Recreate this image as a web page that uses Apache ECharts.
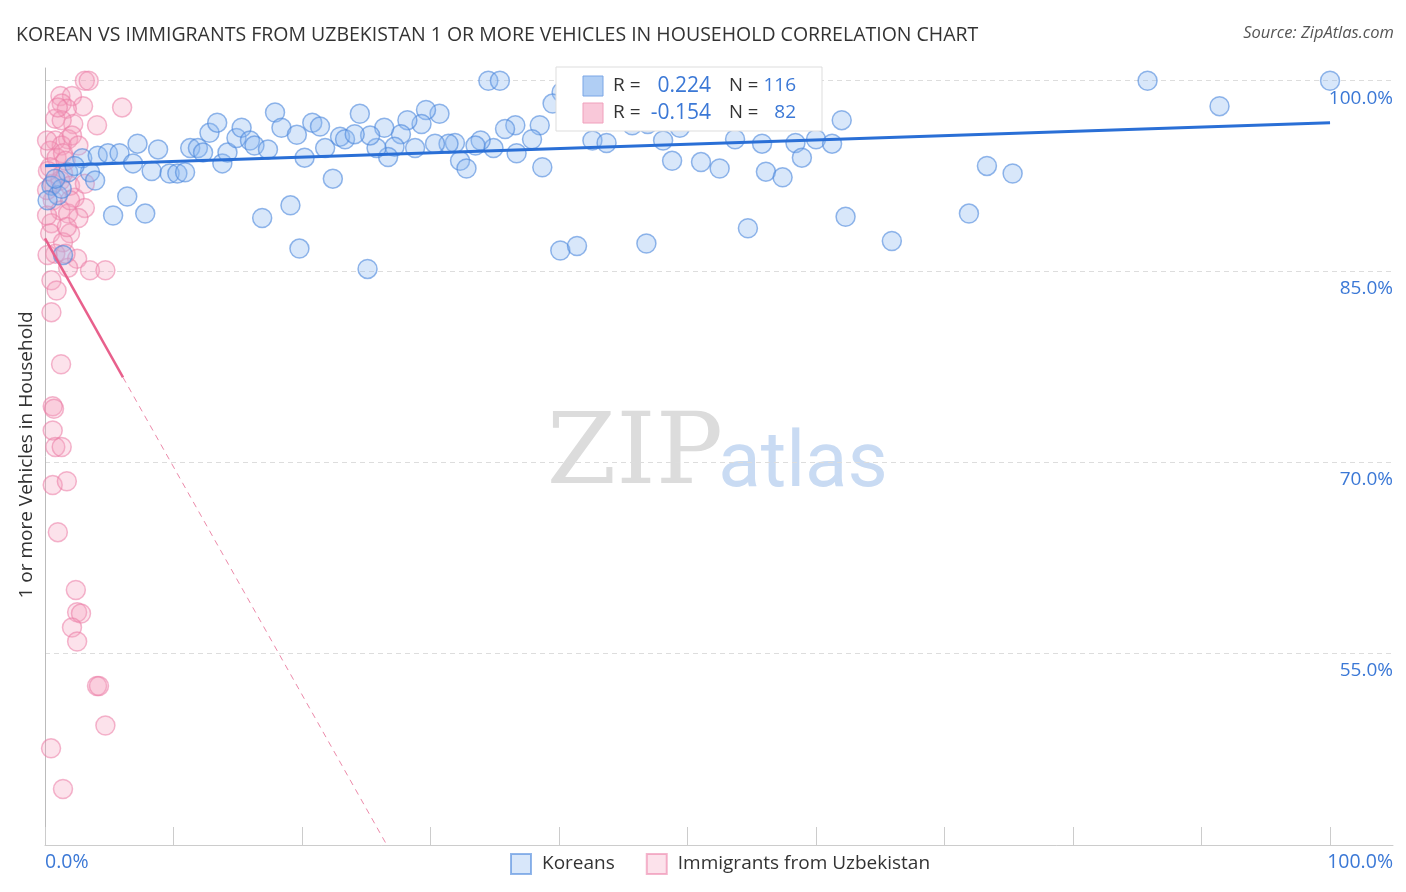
<!DOCTYPE html>
<html>
<head>
<meta charset="utf-8">
<script src="https://cdn.jsdelivr.net/npm/echarts@6/dist/echarts.min.js"></script>
<style>html,body{margin:0;padding:0;background:#fff;}#c{width:1406px;height:892px;}</style>
</head>
<body>
<div id="c"></div>
<script>
const koreans = [
[34.5,100],[35.4,100],[40.7,100.1],[40.2,99.1],[39.5,98.2],[42.3,98.7],[48.0,97.6],[45.7,96.5],[46.9,96.6],[49.4,96.3],
[48.1,95.3],[48.8,93.7],[42.6,95.3],[43.7,95.1],[38.5,96.5],[37.9,95.4],[36.6,96.5],[35.8,96.2],[36.7,94.3],[38.7,93.2],
[34.9,94.7],[33.9,95.3],[33.5,94.9],[31.9,95.1],[31.4,95.05],[32.3,93.7],[32.8,93.1],[30.35,95.05],[28.8,94.7],[30.7,97.4],
[29.65,97.7],[29.3,96.6],[28.2,96.9],[27.7,95.8],[27.2,94.8],[26.7,94.0],[26.4,96.3],[25.8,94.7],[25.3,95.7],[24.5,97.4],
[25.1,85.2],[40.1,86.65],[41.4,87.0],[46.8,87.2],
[2.9,93.9],[3.5,92.8],[3.9,92.15],[4.1,94.1],[4.9,94.3],[5.8,94.3],[6.85,93.5],[7.2,95.05],[8.8,94.6],[8.3,92.9],
[9.7,92.7],[10.3,92.7],[10.9,92.8],[11.3,94.7],[11.9,94.7],[12.3,94.35],[12.8,95.9],[13.4,96.7],[13.8,93.5],[14.2,94.35],
[14.9,95.5],[15.3,96.3],[15.95,95.3],[16.3,94.9],[17.35,94.6],[17.9,97.5],[18.4,96.3],[19.6,95.75],[20.2,93.95],[20.8,96.7],
[21.4,96.4],[21.8,94.7],[22.4,92.3],[22.96,95.6],[23.35,95.4],[24.1,95.8],
[6.4,90.9],[5.3,89.4],[7.8,89.55],[16.9,89.2],[19.1,90.2],[19.8,86.8],[1.4,86.3],
[50.8,98.7],[52.0,98.0],[54.5,98.7],[53.7,95.4],[55.8,95.05],[58.4,95.1],[60.0,95.4],[61.25,95.05],[62.0,96.9],[58.9,93.95],
[51.05,93.6],[52.5,93.1],[56.1,92.85],[57.4,92.4],[54.7,88.4],[62.3,89.3],[65.9,87.4],[73.3,93.3],[75.3,92.7],[71.9,89.55],
[85.8,100],[100,100],[91.4,98.0],
[0.5,91.75],[1.0,91.0],[1.3,91.5],[1.8,92.8],[0.8,92.3],[2.3,93.3],[0.2,90.6]
];
const uzbek = [
[3.1,100],[3.4,100],[1.2,98.8],[2.1,98.8],[1.3,98.2],[2.96,98.0],[6.0,97.9],[1.7,97.8],[0.8,97.0],[2.2,96.6],
[4.05,96.5],[1.3,96.9],[1.8,95.4],[0.8,95.3],[1.3,94.9],[0.4,94.5],[0.9,93.95],[1.4,94.3],[0.4,93.2],[1.4,92.7],
[0.6,91.9],[1.2,92.15],[2.3,90.8],[3.1,90.0],[0.6,90.6],[1.2,89.8],[1.8,89.55],[2.6,89.2],[0.5,88.8],[1.95,88.0],
[0.4,88.0],[1.4,87.3],[0.8,86.4],[2.5,86.0],[1.8,85.3],[3.5,85.1],[4.7,85.1],[0.5,84.3],[0.9,83.5],[0.5,81.8],
[1.25,77.7],[0.6,74.4],[0.7,74.2],[0.6,72.5],[0.8,71.2],[1.3,71.2],[0.6,68.2],[1.7,68.5],[1.0,64.5],[2.4,59.95],
[2.5,58.2],[2.8,58.1],[2.1,57.0],[2.5,55.9],[4.05,52.4],[4.2,52.4],[4.7,49.3],[0.47,47.5],[1.4,44.3],
[1.0,97.9],[2.1,95.7],[1.7,88.5],[1.6,86.4],
[0.23,92.9],[1.95,91.75],[1.6,93.7],[2.6,94.9],[0.16,95.3],[0.16,91.4],[0.16,89.4],[0.2,86.3],[3.1,91.9],[1.95,90.6]
];
const koreanTrend = [[0,93.32],[100,96.70]];
const uzbekTrendSolid = [[0,87.6],[6.07,76.67]];
const uzbekTrendDashed = [[6.07,76.67],[26.6,39.9]];
const yTicks = [55,70,85,100];
const xTicks = [0,10,20,30,40,50,60,70,80,90,100];
const seriesNames = ['Koreans','Immigrants from Uzbekistan'];
const stats = [{r:'0.224', n:'116'},{r:'-0.154', n:'82'}];
const xLabels = ['0.0%','100.0%'];

const chart = echarts.init(document.getElementById('c'));
const FONT = '"Open Sans", Roboto, sans-serif';
const BLUE_TXT = '#3b78d6';
const legendBox = [];
legendBox.push({type:'rect', shape:{x:556,y:67,width:266,height:64}, style:{fill:'#fff', stroke:'#dddddd', lineWidth:1}, z:100});
const sq = [{fill:'rgba(150,190,240,0.75)',stroke:'#7aa6e6'},{fill:'rgba(248,190,210,0.85)',stroke:'#f0a0bc'}];
stats.forEach((s,i)=>{
  const cy = 86 + i*27;
  legendBox.push({type:'rect', shape:{x:583,y:cy-10,width:20,height:20}, style:{fill:sq[i].fill, stroke:sq[i].stroke, lineWidth:1}, z:101});
  legendBox.push({type:'text', x:613, y:cy, style:{text:'R =', fill:'#333', font:'19px '+FONT, textVerticalAlign:'middle'}, z:101});
  legendBox.push({type:'text', x:711, y:cy, style:{text:s.r, fill:BLUE_TXT, font:'21px '+FONT, textAlign:'right', textVerticalAlign:'middle'}, z:101});
  legendBox.push({type:'text', x:729, y:cy, style:{text:'N =', fill:'#333', font:'18.5px '+FONT, textVerticalAlign:'middle'}, z:101});
  legendBox.push({type:'text', x:796, y:cy, style:{text:s.n, fill:BLUE_TXT, font:'19px '+FONT, textAlign:'right', textVerticalAlign:'middle'}, z:101});
});

const option = {
  backgroundColor:'#fff',
  animation:false,
  title:{text:'KOREAN VS IMMIGRANTS FROM UZBEKISTAN 1 OR MORE VEHICLES IN HOUSEHOLD CORRELATION CHART', left:11, top:20,
    textStyle:{fontSize:19.5, fontWeight:'normal', color:'#333', fontFamily:FONT}},
  grid:{left:45, right:13, top:68, bottom:47},
  xAxis:{type:'value', min:0, max:104.9, interval:10,
    axisLine:{show:true, lineStyle:{color:'#cccccc', width:1}},
    axisTick:{show:true, inside:true, length:18, customValues:xTicks, lineStyle:{color:'#cccccc'}},
    axisLabel:{show:false}, splitLine:{show:false}},
  yAxis:[
    {type:'value', position:'right', min:39.9, max:101,
      axisLine:{show:false}, axisTick:{show:false, customValues:yTicks},
      axisLabel:{show:true, inside:true, margin:0, customValues:yTicks, formatter:v=>v.toFixed(1)+'%',
        color:'#3b78d6', fontSize:19, fontFamily:FONT, verticalAlign:'top', padding:[8,0,0,0]},
      splitLine:{show:true, lineStyle:{color:'#dddddd', type:[5,4], width:1}}},
    {type:'value', position:'left', min:39.9, max:101,
      axisLine:{show:true, lineStyle:{color:'#bbbbbb', width:1}}, axisTick:{show:false}, axisLabel:{show:false}, splitLine:{show:false}}
  ],
  legend:{data:seriesNames, left:510, top:853, padding:0, itemWidth:20, itemHeight:20, itemGap:31, icon:'rect',
    textStyle:{fontSize:19, color:'#333', fontFamily:FONT, padding:[0,0,0,6]}},
  graphic:[
    {type:'text', x:1394, y:33, style:{text:'Source: ZipAtlas.com', fill:'#555', font:'italic 16.5px '+FONT, textAlign:'right', textVerticalAlign:'middle'}},
    {type:'text', x:27, y:455, rotation:Math.PI/2, style:{text:'1 or more Vehicles in Household', fill:'#333', font:'19px '+FONT, textAlign:'center', textVerticalAlign:'middle'}},
    {type:'text', x:45, y:862, style:{text:xLabels[0], fill:BLUE_TXT, font:'19.5px '+FONT, textAlign:'left', textVerticalAlign:'middle'}},
    {type:'text', x:1393, y:862, style:{text:xLabels[1], fill:BLUE_TXT, font:'19.5px '+FONT, textAlign:'right', textVerticalAlign:'middle'}},
    {type:'text', x:635, y:457, style:{text:'ZIP', fill:'#dcdcdc', font:'100px "DejaVu Serif", "Liberation Serif", serif', textAlign:'center', textVerticalAlign:'middle'}, z:-1},
    {type:'text', x:803, y:466, style:{text:'atlas', fill:'#c9dbf3', font:'78px Roboto, sans-serif', textAlign:'center', textVerticalAlign:'middle'}, z:-1},
    {type:'group', children:legendBox}
  ],
  series:[
    {name:seriesNames[0], type:'scatter', data:koreans, symbolSize:19,
      itemStyle:{color:'rgba(140,185,240,0.42)', borderColor:'rgba(75,135,220,0.75)', borderWidth:1.5}, z:3},
    {name:seriesNames[1], type:'scatter', data:uzbek, symbolSize:19,
      itemStyle:{color:'rgba(245,160,190,0.38)', borderColor:'rgba(235,125,165,0.7)', borderWidth:1.5}, z:2},
    {name:'kt', type:'line', data:koreanTrend, showSymbol:false, silent:true, lineStyle:{color:'#2a6fd6', width:3}, z:5},
    {name:'ut', type:'line', data:uzbekTrendSolid, showSymbol:false, silent:true, lineStyle:{color:'#e8608c', width:2.5}, z:5},
    {name:'ud', type:'line', data:uzbekTrendDashed, showSymbol:false, silent:true, lineStyle:{color:'#ec8aaa', width:1, type:[6,5]}, z:5}
  ]
};
chart.setOption(option);
</script>
</body>
</html>
